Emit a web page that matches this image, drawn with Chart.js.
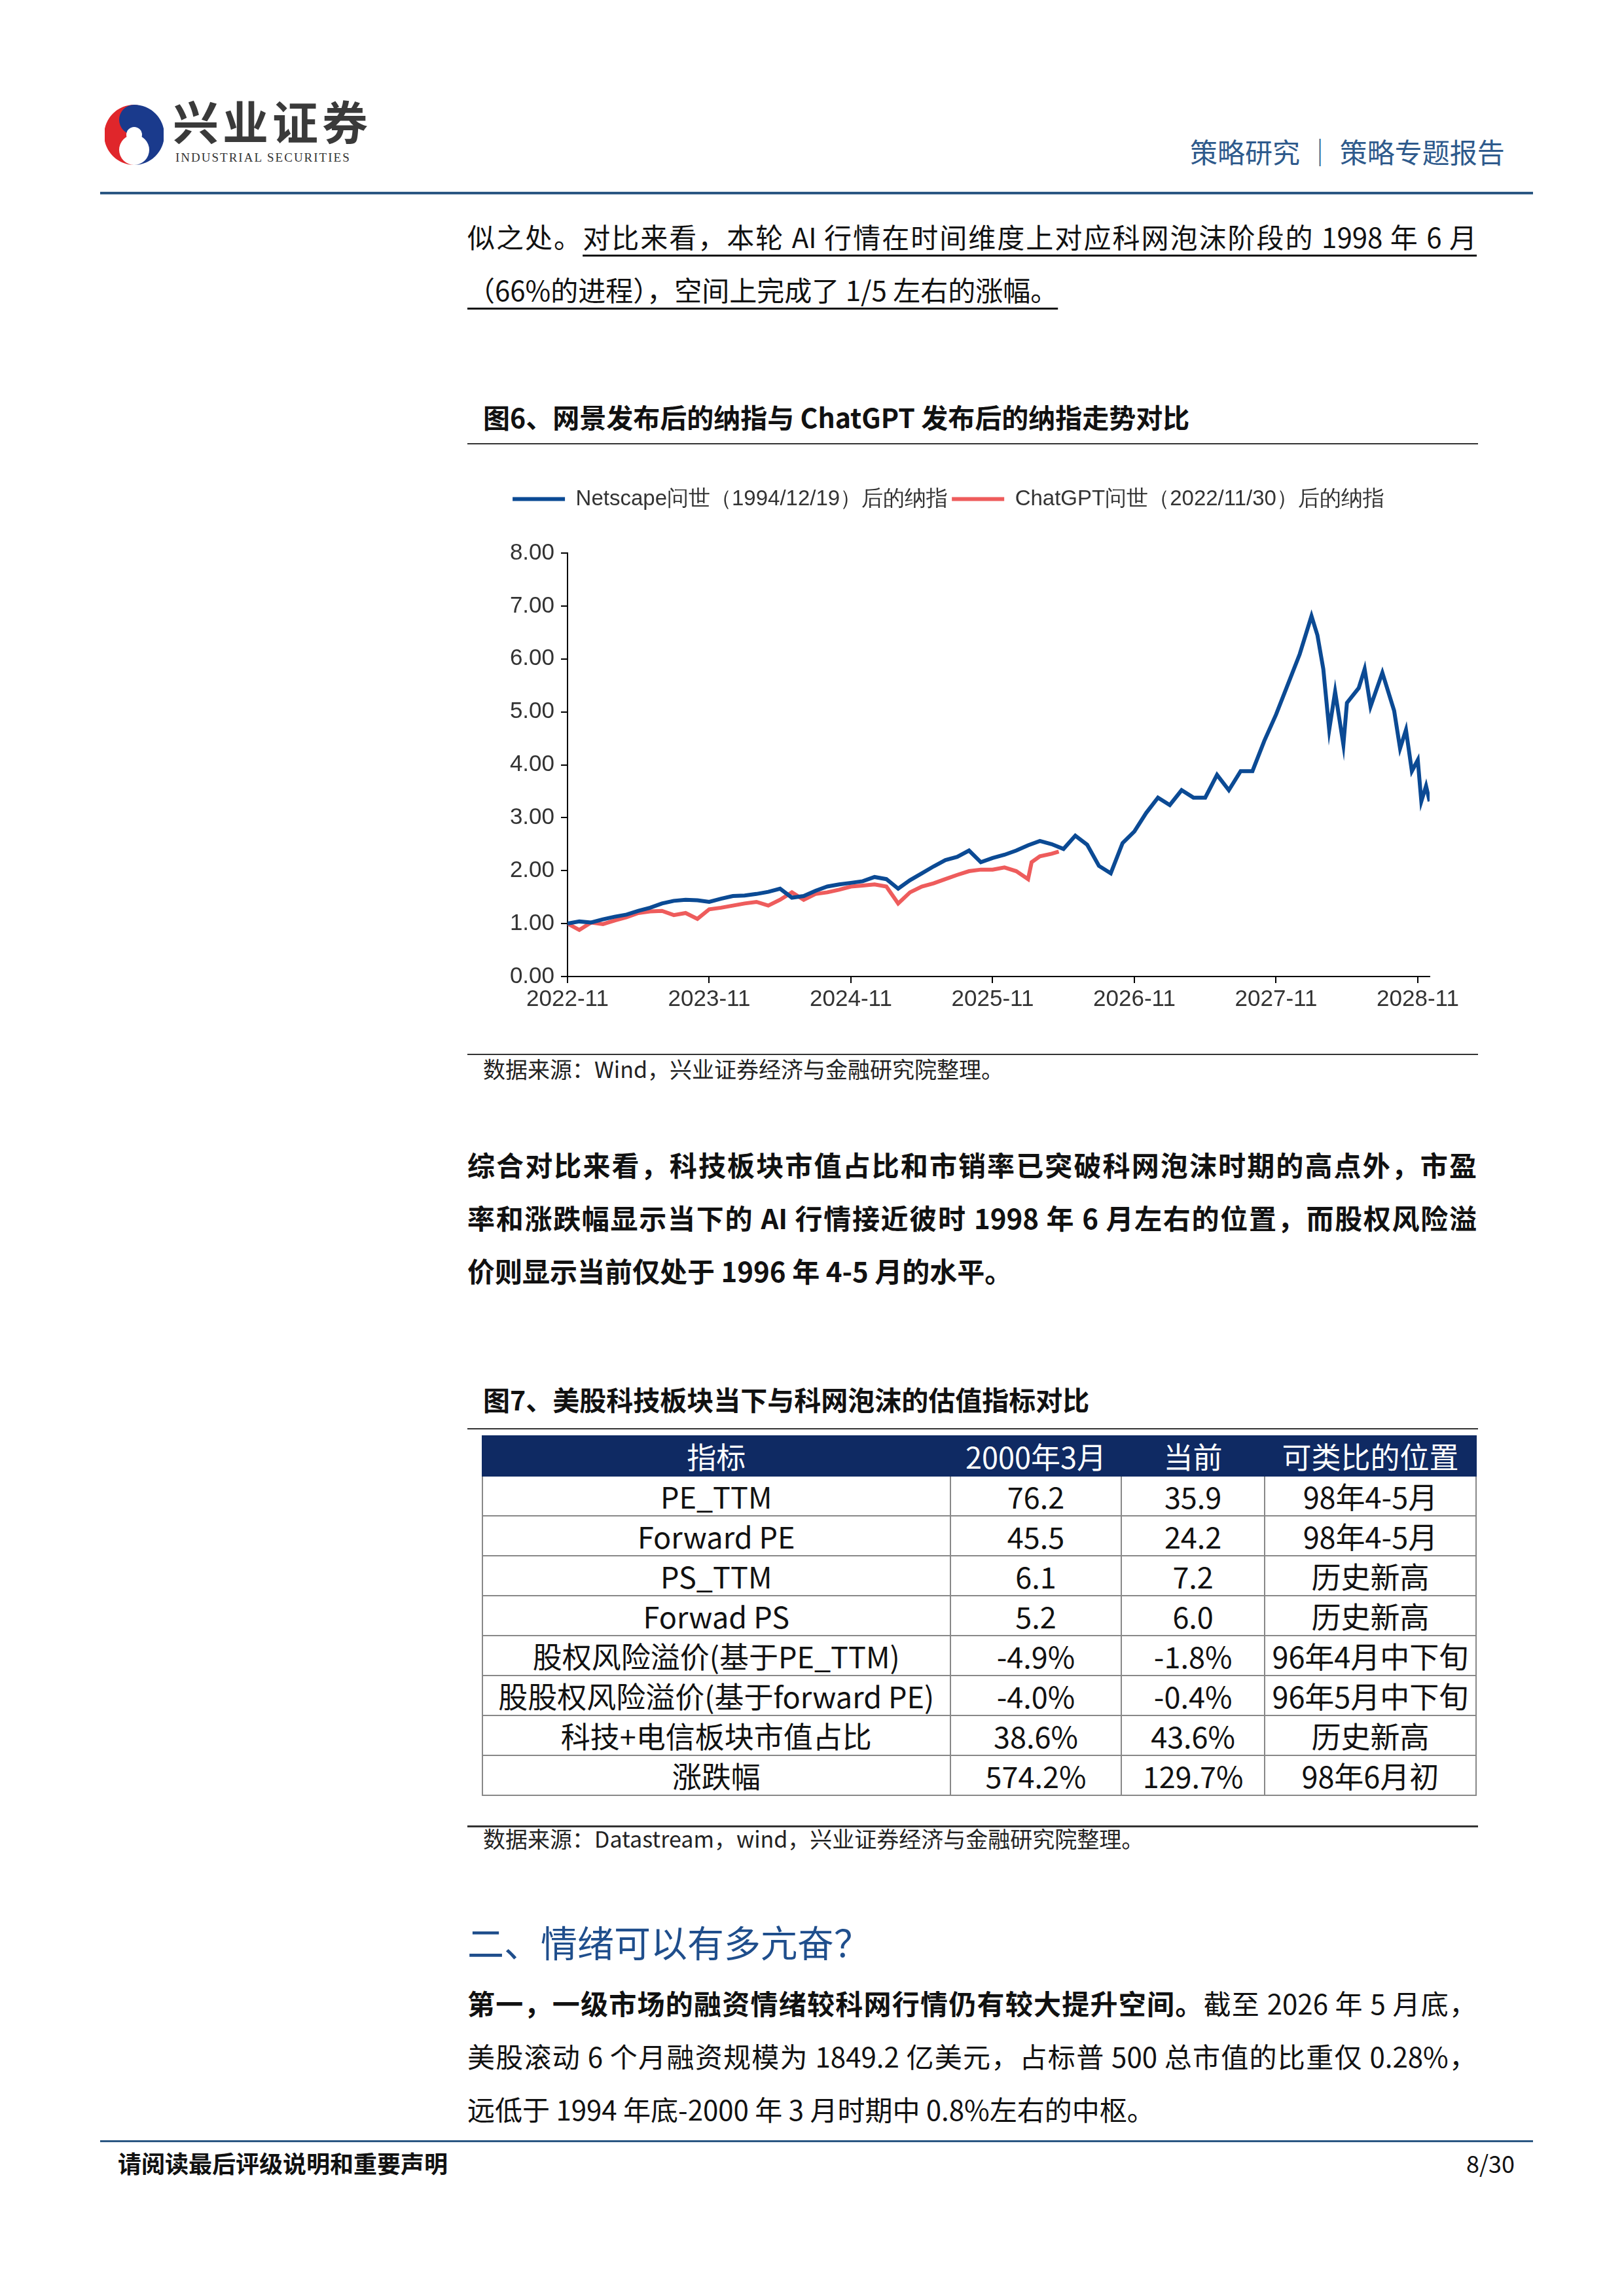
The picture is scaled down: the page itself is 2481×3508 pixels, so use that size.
<!DOCTYPE html>
<html><head><meta charset="utf-8">
<script src="https://cdn.jsdelivr.net/npm/chart.js@4"></script>
<style>
html,body{margin:0;padding:0;background:#fff;}
body{width:2481px;height:3508px;position:relative;font-family:"Noto Sans CJK SC","Noto Sans",sans-serif;color:#111;}
.a{position:absolute;white-space:nowrap;}
.j{position:absolute;left:714px;width:1542px;text-align:justify;text-align-last:justify;font-size:42px;line-height:60px;white-space:nowrap;}
.u{text-decoration:underline;text-decoration-thickness:3px;text-underline-offset:10px;}
table{position:absolute;left:736px;top:2206px;width:1520px;border-collapse:collapse;font-size:45px;}
td,th{border:2px solid #888;text-align:center;height:59px;padding:0;line-height:59px;font-weight:normal;}
th{background:#0f2a63;color:#fff;border-color:#0f2a63;}
</style></head><body>
<svg class="a" style="left:160px;top:156px" width="90" height="100" viewBox="0 0 90 100">
<path d="M45 4 A46 46 0 0 0 45 96 A23 23 0 0 1 45 50 A23 23 0 0 0 45 4Z" fill="#e0262b"/>
<path d="M45 4 A46 46 0 0 1 45 96 A23 23 0 0 0 45 50 A23 23 0 0 1 45 4Z" fill="#1a3a8c"/>
<circle cx="45" cy="50" r="12" fill="#fff"/>
</svg>
<div class="a" style="left:264px;top:144px;font-size:70px;font-weight:bold;color:#3a3a3a;letter-spacing:6px;line-height:80px">兴业证券</div>
<div class="a" style="left:268px;top:230px;font-size:19px;line-height:22px;font-family:'Liberation Serif';color:#333;letter-spacing:2px">INDUSTRIAL SECURITIES</div>
<div class="a" style="left:1818px;top:203px;font-size:42px;color:#2e5a8c;line-height:56px">策略研究 ｜ 策略专题报告</div>
<div class="a" style="left:153px;top:293px;width:2189px;height:4px;background:#2b5783"></div>

<div class="j" style="top:331px">似之处。<span class="u">对比来看，本轮 AI 行情在时间维度上对应科网泡沫阶段的 1998 年 6 月</span></div>
<div class="a u" style="left:714px;top:412px;font-size:42px;line-height:60px">（66%的进程），空间上完成了 1/5 左右的涨幅。</div>

<div class="a" style="left:738px;top:608px;font-size:41px;font-weight:bold;line-height:56px">图6、网景发布后的纳指与 ChatGPT 发布后的纳指走势对比</div>
<div class="a" style="left:714px;top:677px;width:1544px;height:2px;background:#333"></div>
<div class="a" style="left:714px;top:700px;width:1544px;height:900px"><canvas id="c" width="1544" height="900"></canvas></div>
<div class="a" style="left:714px;top:1610px;width:1544px;height:2px;background:#333"></div>
<div class="a" style="left:738px;top:1609px;font-size:34px;line-height:48px;color:#222">数据来源：Wind，兴业证券经济与金融研究院整理。</div>

<div class="j" style="top:1749px;font-weight:bold">综合对比来看，科技板块市值占比和市销率已突破科网泡沫时期的高点外，市盈</div>
<div class="j" style="top:1830px;font-weight:bold">率和涨跌幅显示当下的 AI 行情接近彼时 1998 年 6 月左右的位置，而股权风险溢</div>
<div class="a" style="left:714px;top:1911px;font-size:42px;line-height:60px;font-weight:bold">价则显示当前仅处于 1996 年 4-5 月的水平。</div>

<div class="a" style="left:738px;top:2109px;font-size:41px;font-weight:bold;line-height:56px">图7、美股科技板块当下与科网泡沫的估值指标对比</div>
<div class="a" style="left:714px;top:2182px;width:1544px;height:2px;background:#333"></div>
<table id="t" style="top:2193px"></table>
<div class="a" style="left:714px;top:2789px;width:1544px;height:3px;background:#333"></div>
<div class="a" style="left:738px;top:2785px;font-size:34px;line-height:48px;color:#222">数据来源：Datastream，wind，兴业证券经济与金融研究院整理。</div>

<div class="a" style="left:714px;top:2926px;font-size:56px;line-height:80px;color:#1f4e8c">二、情绪可以有多亢奋？</div>
<div class="j" style="top:3030px"><b>第一，一级市场的融资情绪较科网行情仍有较大提升空间。</b>截至 2026 年 5 月底，</div>
<div class="j" style="top:3111px">美股滚动 6 个月融资规模为 1849.2 亿美元，占标普 500 总市值的比重仅 0.28%，</div>
<div class="a" style="left:714px;top:3192px;font-size:42px;line-height:60px">远低于 1994 年底-2000 年 3 月时期中 0.8%左右的中枢。</div>

<div class="a" style="left:153px;top:3270px;width:2189px;height:3px;background:#2b5783"></div>
<div class="a" style="left:180px;top:3279px;font-size:36px;font-weight:bold;line-height:50px">请阅读最后评级说明和重要声明</div>
<div class="a" style="left:2240px;top:3279px;font-size:36px;line-height:50px">8/30</div>

<script>
const xTickLabels = ["2022-11","2023-11","2024-11","2025-11","2026-11","2027-11","2028-11"];
const seriesNames = ["Netscape问世（1994/12/19）后的纳指","ChatGPT问世（2022/11/30）后的纳指"];
const netscapeMonths = [0,1,2,3,4,5,6,7,8,9,10,11,12,13,14,15,16,17,18,19,20,21,22,23,24,25,26,27,28,29,30,31,32,33,34,35,36,37,38,39,40,41,42,43,44,45,46,47,48,49,50,51,52,53,54,55,56,57,58,59,60,61,62,63,63.5,64,64.5,65,65.7,66,67,67.5,68,69,70,70.5,71,71.5,72,72.3,72.7,73];
const netscapeValues = [1.0,1.04,1.02,1.08,1.13,1.17,1.24,1.3,1.38,1.43,1.45,1.44,1.41,1.47,1.52,1.53,1.56,1.6,1.66,1.49,1.52,1.62,1.7,1.74,1.77,1.8,1.88,1.84,1.66,1.82,1.95,2.08,2.2,2.26,2.38,2.16,2.24,2.3,2.38,2.48,2.56,2.5,2.41,2.66,2.49,2.09,1.95,2.52,2.74,3.09,3.38,3.24,3.52,3.38,3.38,3.81,3.52,3.88,3.88,4.45,4.95,5.52,6.09,6.81,6.45,5.81,4.66,5.38,4.38,5.17,5.45,5.81,5.1,5.74,5.02,4.31,4.66,3.88,4.09,3.31,3.6,3.31];
const chatgptMonths = [0,1,2,3,4,5,6,7,8,9,10,11,12,13,14,15,16,17,18,19,20,21,22,23,24,25,26,27,28,29,30,31,32,33,34,35,36,37,38,39,39.3,40,41,41.6];
const chatgptValues = [1.0,0.88,1.02,0.99,1.06,1.12,1.2,1.23,1.24,1.16,1.2,1.09,1.27,1.3,1.34,1.38,1.41,1.34,1.45,1.59,1.45,1.56,1.59,1.64,1.7,1.72,1.74,1.7,1.38,1.59,1.7,1.76,1.84,1.92,1.99,2.02,2.02,2.06,1.99,1.84,2.16,2.27,2.32,2.36];
const tableHeader = ["指标","2000年3月","当前","可类比的位置"];
const indicators = ["PE_TTM","Forward PE","PS_TTM","Forwad PS","股权风险溢价(基于PE_TTM)","股股权风险溢价(基于forward PE)","科技+电信板块市值占比","涨跌幅"];
const mar2000 = ["76.2","45.5","6.1","5.2","-4.9%","-4.0%","38.6%","574.2%"];
const current = ["35.9","24.2","7.2","6.0","-1.8%","-0.4%","43.6%","129.7%"];
const position = ["98年4-5月","98年4-5月","历史新高","历史新高","96年4月中下旬","96年5月中下旬","历史新高","98年6月初"];

const t=document.getElementById('t');
const widths=[718,261,217,324];
let h='<tr>'+tableHeader.map((c,i)=>`<th style="width:${widths[i]}px">${c}</th>`).join('')+'</tr>';
indicators.forEach((n,i)=>{h+=`<tr><td>${n}</td><td>${mar2000[i]}</td><td>${current[i]}</td><td>${position[i]}</td></tr>`;});
t.innerHTML=h;

const legendGap={id:'legendGap',afterInit(chart){const f=chart.legend.fit;chart.legend.fit=function(){f.call(this);this.height+=56;};}};
const pts=(xs,ys)=>xs.map((x,i)=>({x,y:ys[i]}));
new Chart(document.getElementById('c'),{
 type:'line',
 plugins:[legendGap],
 data:{datasets:[
  {label:seriesNames[0],data:pts(netscapeMonths,netscapeValues),borderColor:'#0b4a94',backgroundColor:'#0b4a94',borderWidth:6,pointRadius:0,tension:0},
  {label:seriesNames[1],data:pts(chatgptMonths,chatgptValues),borderColor:'#ee5c5c',backgroundColor:'#ee5c5c',borderWidth:6,pointRadius:0,tension:0}
 ]},
 options:{responsive:false,animation:false,devicePixelRatio:1,
  layout:{padding:{top:40,right:74,left:0,bottom:0}},
  plugins:{legend:{position:'top',labels:{usePointStyle:true,pointStyle:'line',pointStyleWidth:80,boxHeight:6,color:'#333',font:{family:'Liberation Sans',size:33},padding:6},},tooltip:{enabled:false}},
  scales:{
   x:{type:'linear',min:0,max:73,afterFit:s=>{s.height=108;},
     afterBuildTicks:s=>{s.ticks=xTickLabels.map((_,i)=>({value:i*12}));},
     ticks:{callback:(v)=>xTickLabels[v/12],color:'#333',font:{family:'Liberation Sans',size:35},maxRotation:0,autoSkip:false,padding:4},
     grid:{display:true,drawOnChartArea:false,tickLength:10,color:'#000',lineWidth:2},border:{color:'#000',width:2}},
   y:{min:0,max:8,afterFit:s=>{s.width=153;},
     ticks:{stepSize:1,callback:v=>v.toFixed(2),color:'#333',font:{family:'Liberation Sans',size:35},padding:10},
     grid:{display:true,drawOnChartArea:false,tickLength:10,color:'#000',lineWidth:2},border:{color:'#000',width:2}}
  }}
});
</script>
</body></html>
